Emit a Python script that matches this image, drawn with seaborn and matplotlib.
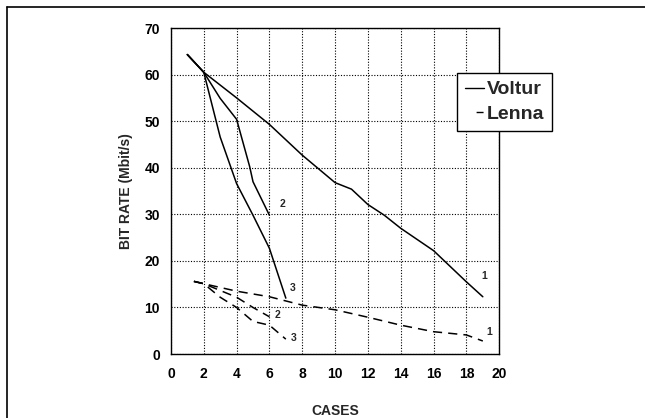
import matplotlib
matplotlib.use("Agg")
import matplotlib.pyplot as plt
import seaborn as sns
import pandas as pd
from matplotlib.lines import Line2D
from matplotlib.ticker import MultipleLocator

# Voltur (solid) - three cases
voltur1_x = [1, 2, 4, 6, 8, 10, 11, 12, 13, 14, 15, 16, 18, 19]
voltur1_y = [64.3, 60.5, 55, 49.3, 42.7, 36.8, 35.4, 32.1, 29.8, 27.0, 24.6, 22.2, 15.5, 12.3]
voltur2_x = [1, 2, 3, 4, 4.8, 5, 6]
voltur2_y = [64.3, 60.5, 54.9, 50.4, 40.2, 37, 29.8]
voltur3_x = [1, 2, 3, 4, 5, 6, 7]
voltur3_y = [64.3, 60.5, 46.6, 36.6, 29.8, 22.7, 12]

# Lenna (dashed) - three cases
lenna1_x = [1.4, 2, 4, 6, 8, 10, 12, 14, 16, 18, 19]
lenna1_y = [15.6, 15.1, 13.5, 12.3, 10.5, 9.5, 7.9, 6.2, 4.8, 4.1, 2.8]
lenna2_x = [1.4, 2, 4, 5, 6]
lenna2_y = [15.6, 15.1, 12.2, 10.0, 8.0]
lenna3_x = [1.4, 2, 3, 4, 5, 6, 7]
lenna3_y = [15.6, 15.1, 12.2, 10.0, 7.0, 6.2, 3.2]

# case labels next to line ends
voltur_labels = [("1", 19.1, 16.7), ("2", 6.8, 32.3), ("3", 7.4, 14.1)]
lenna_labels = [("1", 19.4, 4.8), ("2", 6.5, 8.4), ("3", 7.5, 3.4)]

sns.set_style("white")
plt.rcParams['font.family'] = ['Liberation Sans', 'DejaVu Sans']

fig = plt.figure(figsize=(6.45, 4.18), dpi=100)
ax = fig.add_axes([0.265, 0.153, 0.509, 0.780])

for xs, ys in [(voltur1_x, voltur1_y), (voltur2_x, voltur2_y), (voltur3_x, voltur3_y)]:
    sns.lineplot(x=xs, y=ys, ax=ax, color='black', linewidth=1.1, sort=False,
                 estimator=None)
for xs, ys in [(lenna1_x, lenna1_y), (lenna2_x, lenna2_y), (lenna3_x, lenna3_y)]:
    sns.lineplot(x=xs, y=ys, ax=ax, color='black', linewidth=1.1, sort=False,
                 estimator=None, linestyle=(0, (6, 4)))

for txt, x, y in voltur_labels + lenna_labels:
    ax.text(x, y, txt, fontsize=7.5, fontweight='bold', ha='center', va='center')

ax.set_xlim(0, 20)
ax.set_ylim(0, 70)
ax.xaxis.set_major_locator(MultipleLocator(2))
ax.xaxis.set_minor_locator(MultipleLocator(0.4))
ax.yaxis.set_major_locator(MultipleLocator(10))
ax.yaxis.set_minor_locator(MultipleLocator(2))
ax.tick_params(which='major', direction='in', length=5, width=0.9, colors='black',
               labelsize=10)
ax.tick_params(axis='x', which='major', pad=9)
ax.tick_params(axis='y', which='major', pad=8)
ax.tick_params(which='minor', direction='in', length=2.5, width=0.8, colors='black')
for lab in ax.get_xticklabels() + ax.get_yticklabels():
    lab.set_fontweight('bold')
ax.grid(True, which='major', color='black', linestyle=(0, (1, 1.5)), linewidth=0.8)
for sp in ax.spines.values():
    sp.set_color('black')
    sp.set_linewidth(1.0)

ax.set_xlabel('CASES', fontsize=10, fontweight='bold', labelpad=17)
ax.set_ylabel('BIT RATE (Mbit/s)', fontsize=10, fontweight='bold', labelpad=8)

handles = [Line2D([], [], color='black', linewidth=1.0),
           Line2D([], [], color='black', linewidth=1.0, linestyle=(0, (0.001, 8, 5, 20)))]
leg = ax.legend(handles, ['Voltur', 'Lenna'], loc='upper left',
                bbox_to_anchor=(0.872, 0.862), borderaxespad=0, handlelength=1.0,
                handletextpad=0.1, borderpad=0.4, labelspacing=0.35, fancybox=False,
                framealpha=1, prop={'size': 14, 'weight': 'bold'})
leg.get_frame().set_edgecolor('black')
leg.get_frame().set_linewidth(1.0)

# scanned-page frame (left and top edges)
fig.add_artist(Line2D([0.011, 0.011], [0.0, 0.983], color='black', linewidth=1.2,
                      transform=fig.transFigure))
fig.add_artist(Line2D([0.011, 1.0], [0.983, 0.983], color='black', linewidth=1.2,
                      transform=fig.transFigure))

fig.savefig('out.png', dpi=100)
